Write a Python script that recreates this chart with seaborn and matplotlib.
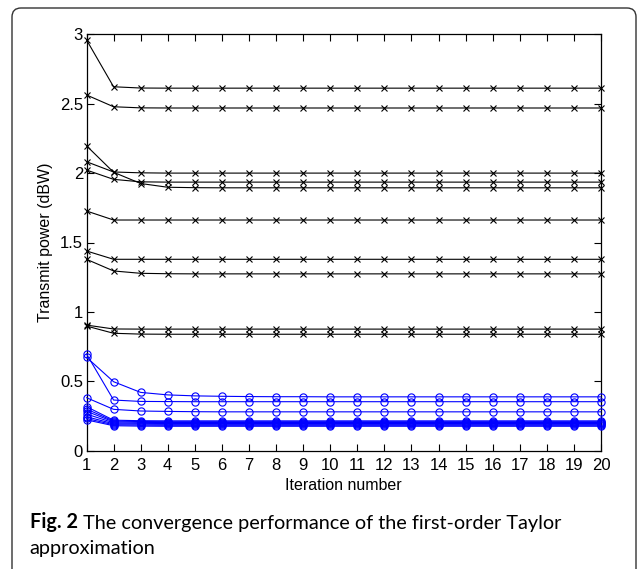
import matplotlib
matplotlib.use("Agg")
import matplotlib.pyplot as plt
import seaborn as sns
import numpy as np
import pandas as pd
from matplotlib.patches import FancyBboxPatch
from matplotlib.transforms import IdentityTransform

# ---------------- data ----------------
iterations = list(range(1, 21))

# black curves (x markers)
black_1 = [2.960, 2.622, 2.613, 2.612, 2.612, 2.612, 2.612, 2.612, 2.612, 2.612, 2.612, 2.612, 2.612, 2.612, 2.612, 2.612, 2.612, 2.612, 2.612, 2.612]
black_2 = [2.563, 2.478, 2.470, 2.469, 2.469, 2.469, 2.469, 2.469, 2.469, 2.469, 2.469, 2.469, 2.469, 2.469, 2.469, 2.469, 2.469, 2.469, 2.469, 2.469]
black_3 = [2.197, 2.006, 1.925, 1.898, 1.895, 1.894, 1.894, 1.894, 1.894, 1.894, 1.894, 1.894, 1.894, 1.894, 1.894, 1.894, 1.894, 1.894, 1.894, 1.894]
black_4 = [2.082, 2.008, 2.002, 2.000, 2.000, 2.000, 2.000, 2.000, 2.000, 2.000, 2.000, 2.000, 2.000, 2.000, 2.000, 2.000, 2.000, 2.000, 2.000, 2.000]
black_5 = [2.022, 1.955, 1.937, 1.935, 1.935, 1.935, 1.935, 1.935, 1.935, 1.935, 1.935, 1.935, 1.935, 1.935, 1.935, 1.935, 1.935, 1.935, 1.935, 1.935]
black_6 = [1.727, 1.662, 1.662, 1.662, 1.662, 1.662, 1.662, 1.662, 1.662, 1.662, 1.662, 1.662, 1.662, 1.662, 1.662, 1.662, 1.662, 1.662, 1.662, 1.662]
black_7 = [1.439, 1.379, 1.379, 1.379, 1.379, 1.379, 1.379, 1.379, 1.379, 1.379, 1.379, 1.379, 1.379, 1.379, 1.379, 1.379, 1.379, 1.379, 1.379, 1.379]
black_8 = [1.379, 1.295, 1.278, 1.275, 1.274, 1.274, 1.274, 1.274, 1.274, 1.274, 1.274, 1.274, 1.274, 1.274, 1.274, 1.274, 1.274, 1.274, 1.274, 1.274]
black_9 = [0.905, 0.877, 0.876, 0.876, 0.876, 0.876, 0.876, 0.876, 0.876, 0.876, 0.876, 0.876, 0.876, 0.876, 0.876, 0.876, 0.876, 0.876, 0.876, 0.876]
black_10 = [0.898, 0.846, 0.840, 0.839, 0.839, 0.839, 0.839, 0.839, 0.839, 0.839, 0.839, 0.839, 0.839, 0.839, 0.839, 0.839, 0.839, 0.839, 0.839, 0.839]

# blue curves (o markers)
blue_1 = [0.697, 0.365, 0.355, 0.354, 0.353, 0.353, 0.353, 0.353, 0.353, 0.353, 0.353, 0.353, 0.353, 0.353, 0.353, 0.353, 0.353, 0.353, 0.353, 0.353]
blue_2 = [0.673, 0.497, 0.420, 0.402, 0.395, 0.392, 0.390, 0.389, 0.389, 0.388, 0.388, 0.388, 0.388, 0.388, 0.388, 0.388, 0.388, 0.388, 0.388, 0.388]
blue_3 = [0.382, 0.298, 0.286, 0.283, 0.281, 0.280, 0.280, 0.280, 0.280, 0.280, 0.280, 0.280, 0.280, 0.280, 0.280, 0.280, 0.280, 0.280, 0.280, 0.280]
blue_4 = [0.317, 0.220, 0.216, 0.215, 0.215, 0.215, 0.215, 0.215, 0.215, 0.215, 0.215, 0.215, 0.215, 0.215, 0.215, 0.215, 0.215, 0.215, 0.215, 0.215]
blue_5 = [0.300, 0.214, 0.210, 0.209, 0.209, 0.209, 0.209, 0.209, 0.209, 0.209, 0.209, 0.209, 0.209, 0.209, 0.209, 0.209, 0.209, 0.209, 0.209, 0.209]
blue_6 = [0.284, 0.208, 0.204, 0.203, 0.203, 0.203, 0.203, 0.203, 0.203, 0.203, 0.203, 0.203, 0.203, 0.203, 0.203, 0.203, 0.203, 0.203, 0.203, 0.203]
blue_7 = [0.264, 0.201, 0.197, 0.196, 0.196, 0.196, 0.196, 0.196, 0.196, 0.196, 0.196, 0.196, 0.196, 0.196, 0.196, 0.196, 0.196, 0.196, 0.196, 0.196]
blue_8 = [0.245, 0.194, 0.191, 0.190, 0.190, 0.190, 0.190, 0.190, 0.190, 0.190, 0.190, 0.190, 0.190, 0.190, 0.190, 0.190, 0.190, 0.190, 0.190, 0.190]
blue_9 = [0.232, 0.187, 0.184, 0.183, 0.183, 0.183, 0.183, 0.183, 0.183, 0.183, 0.183, 0.183, 0.183, 0.183, 0.183, 0.183, 0.183, 0.183, 0.183, 0.183]
blue_10 = [0.222, 0.180, 0.177, 0.176, 0.176, 0.176, 0.176, 0.176, 0.176, 0.176, 0.176, 0.176, 0.176, 0.176, 0.176, 0.176, 0.176, 0.176, 0.176, 0.176]

black_series = [black_1, black_2, black_3, black_4, black_5, black_6, black_7, black_8, black_9, black_10]
blue_series = [blue_1, blue_2, blue_3, blue_4, blue_5, blue_6, blue_7, blue_8, blue_9, blue_10]

y_ticks = [0, 0.5, 1, 1.5, 2, 2.5, 3]
y_tick_labels = ["0", "0.5", "1", "1.5", "2", "2.5", "3"]
x_label = "Iteration number"
y_label = "Transmit power (dBW)"
caption_bold = "Fig. 2"
caption_rest = " The convergence performance of the first-order Taylor"
caption_line2 = "approximation"

# ---------------- style ----------------
sns.set_theme(style="ticks")
plt.rcParams['font.family'] = ['Liberation Sans', 'DejaVu Sans']
plt.rcParams['axes.edgecolor'] = 'black'
plt.rcParams['xtick.color'] = 'black'
plt.rcParams['ytick.color'] = 'black'
plt.rcParams['text.color'] = 'black'
plt.rcParams['axes.labelcolor'] = 'black'

W, H = 637, 569
fig = plt.figure(figsize=(W / 100, H / 100), dpi=100)
fig.patch.set_facecolor('white')

ax_l, ax_r, ax_t, ax_b = 86.5, 601.0, 34.3, 450.7
ax = fig.add_axes([ax_l / W, 1 - ax_b / H, (ax_r - ax_l) / W, (ax_b - ax_t) / H])

for s in black_series:
    sns.lineplot(x=iterations, y=s, ax=ax, color='black', marker='x',
                 markersize=4.2, markeredgewidth=0.8, markeredgecolor='black',
                 linewidth=0.8, clip_on=False, legend=False, zorder=3)
for s in blue_series:
    sns.lineplot(x=iterations, y=s, ax=ax, color='#0000ff', marker='o',
                 markersize=5.2, markerfacecolor='none', markeredgecolor='#0000ff',
                 markeredgewidth=0.8, linewidth=0.8, clip_on=False, legend=False, zorder=3)

ax.set_xlim(1, 20)
ax.set_ylim(0, 3)
ax.set_xticks(iterations)
ax.set_xticklabels([str(i) for i in iterations])
ax.set_yticks(y_ticks)
ax.set_yticklabels(y_tick_labels)
ax.tick_params(axis='both', direction='in', top=True, right=True, length=5,
               width=0.8, labelsize=12)
ax.tick_params(axis='x', pad=5.5)
ax.tick_params(axis='y', pad=2.5)
for sp in ax.spines.values():
    sp.set_visible(True)
    sp.set_linewidth(0.9)
    sp.set_color('black')

ax.set_xlabel(x_label, fontsize=11.5, labelpad=3)
ax.set_ylabel(y_label, fontsize=11.5, labelpad=5)

# outer rounded frame
frame = FancyBboxPatch((12, -30), 636 - 12, (H - 8) + 30,
                       boxstyle="round,pad=0,rounding_size=9",
                       transform=IdentityTransform(), facecolor='none',
                       edgecolor='#333333', linewidth=1.0, zorder=0)
fig.patches.append(frame)

# caption
cap_family = ['Lato', 'DejaVu Sans']
cap_size = 14.0
t1 = fig.text(29.5 / W, 1 - 527.7 / H, caption_bold, fontsize=cap_size,
              fontweight='bold', family=cap_family, va='baseline', ha='left')
t2 = ax.annotate(caption_rest, xy=(1, 0), xycoords=t1, va='bottom', ha='left',
                 fontsize=cap_size, family=cap_family, annotation_clip=False)
t3 = fig.text(29.5 / W, 1 - 554.3 / H, caption_line2, fontsize=cap_size,
              family=cap_family, va='baseline', ha='left')

# fit caption line width to reference (~533 px)
fig.canvas.draw()
r = fig.canvas.get_renderer()
w = t1.get_window_extent(r).width + t2.get_window_extent(r).width
scale = 533.0 / w
for t in (t1, t2, t3):
    t.set_fontsize(cap_size * scale)

fig.savefig("out.png", dpi=100, facecolor='white')
